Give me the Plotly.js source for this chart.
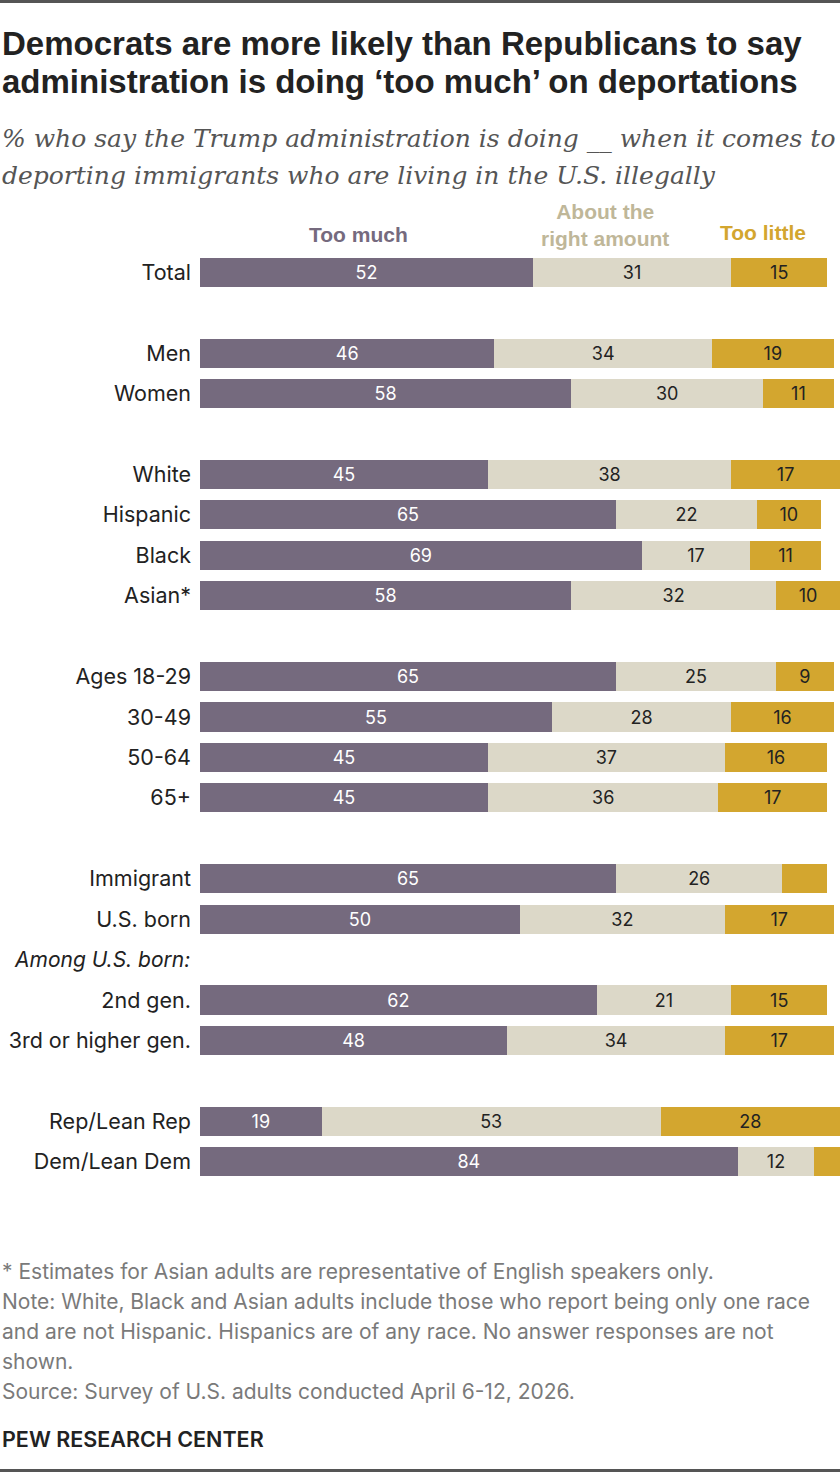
<!DOCTYPE html>
<html>
<head>
<meta charset="utf-8">
<script src="https://cdn.plot.ly/plotly-3.0.1.min.js"></script>
<style>
  html, body { margin: 0; padding: 0; background: #fff; }
  #chart { width: 840px; height: 1472px; }
</style>
</head>
<body>
<div id="chart"></div>
<script>
// Survey groups and shares (%) for each answer
const categories = ['Total', 'Men', 'Women', 'White', 'Hispanic', 'Black', 'Asian*',
  'Ages 18-29', '30-49', '50-64', '65+', 'Immigrant', 'U.S. born',
  '2nd gen.', '3rd or higher gen.', 'Rep/Lean Rep', 'Dem/Lean Dem'];
const tooMuch    = [52, 46, 58, 45, 65, 69, 58, 65, 55, 45, 45, 65, 50, 62, 48, 19, 84];
const aboutRight = [31, 34, 30, 38, 22, 17, 32, 25, 28, 37, 36, 26, 32, 21, 34, 53, 12];
const tooLittle  = [15, 19, 11, 17, 10, 11, 10,  9, 16, 16, 17,  7, 17, 15, 17, 28,  4];
const seriesNames = ['Too much', 'About the right amount', 'Too little'];

// Row slots: null marks a blank spacer between groups
const slots = ['Total', null, 'Men', 'Women', null, 'White', 'Hispanic', 'Black', 'Asian*', null,
  'Ages 18-29', '30-49', '50-64', '65+', null, 'Immigrant', 'U.S. born', 'Among U.S. born:',
  '2nd gen.', '3rd or higher gen.', null, 'Rep/Lean Rep', 'Dem/Lean Dem'];
const subheadLabel = 'Among U.S. born:';

const W = 840, H = 1472;
const M = { l: 200, r: 0, t: 252, b: 290 };
const px = x => (x - M.l) / (W - M.l - M.r);
const py = y => (H - M.b - y) / (H - M.t - M.b);

const colors = ['#756a7e', '#dcd8c8', '#d3a62f'];
const headColors = ['#756a7e', '#bfb799', '#d3a62f'];
const yPos = categories.map(c => slots.indexOf(c));

// Small segments carry no value label
const label = v => (v >= 8 ? String(v) : '');

const sans = 'Inter, Liberation Sans, Arial, sans-serif';
function barTrace(name, vals, color, textColor) {
  return {
    type: 'bar', orientation: 'h', name: name,
    x: vals, y: yPos,
    marker: { color: color, line: { width: 0 } },
    text: vals.map(label), texttemplate: '%{text}',
    textposition: 'inside', insidetextanchor: 'middle', textangle: 0,
    constraintext: 'none',
    textfont: { family: sans, size: 18, color: textColor },
    hoverinfo: 'skip'
  };
}

const data = [
  barTrace(seriesNames[0], tooMuch, colors[0], '#ffffff'),
  barTrace(seriesNames[1], aboutRight, colors[1], '#222222'),
  barTrace(seriesNames[2], tooLittle, colors[2], '#222222')
];

const titleFont = { family: 'Liberation Sans, Arial, sans-serif', size: 33, color: '#222' };
const subFont = { family: 'DejaVu Serif, serif', size: 25, color: '#555', style: 'italic' };
const headFont = { family: 'Liberation Sans, Arial, sans-serif', size: 21, weight: 'bold' };
const noteFont = { family: sans, size: 21, color: '#7a7a7a' };

function ann(text, x, y, font, xanchor) {
  return { text: text, xref: 'paper', yref: 'paper', x: px(x), y: py(y),
    xanchor: xanchor || 'left', yanchor: 'middle', showarrow: false, font: font, align: xanchor === 'center' ? 'center' : 'left' };
}

const annotations = [
  ann('<b>Democrats are more likely than Republicans to say</b>', 0, 43, titleFont),
  ann('<b>administration is doing ‘too much’ on deportations</b>', 0, 81, titleFont),
  ann('% who say the Trump administration is doing __ when it comes to', 0, 138, subFont),
  ann('deporting immigrants who are living in the U.S. illegally', 0, 176, subFont),
  ann('Too much', 358, 235, Object.assign({}, headFont, { color: headColors[0] }), 'center'),
  ann('About the<br>right amount', 605, 225, Object.assign({}, headFont, { color: headColors[1] }), 'center'),
  ann('Too little', 763, 232, Object.assign({}, headFont, { color: headColors[2] }), 'center'),
  { text: '<i>' + subheadLabel + '</i>', xref: 'paper', yref: 'y', x: px(12), y: slots.indexOf(subheadLabel),
    xanchor: 'left', yanchor: 'middle', showarrow: false,
    font: { family: sans, size: 21, color: '#222' } },
  ann('* Estimates for Asian adults are representative of English speakers only.', 0, 1271, noteFont),
  ann('Note: White, Black and Asian adults include those who report being only one race', 0, 1301, noteFont),
  ann('and are not Hispanic. Hispanics are of any race. No answer responses are not', 0, 1331, noteFont),
  ann('shown.', 0, 1361, noteFont),
  ann('Source: Survey of U.S. adults conducted April 6-12, 2026.', 0, 1391, noteFont),
  ann('PEW RESEARCH CENTER', 0, 1439, { family: sans, size: 21.5, color: '#222', weight: 600 })
];

const layout = {
  width: W, height: H,
  margin: M,
  paper_bgcolor: '#ffffff', plot_bgcolor: '#ffffff',
  barmode: 'stack', bargap: 0.28,
  showlegend: false,
  xaxis: { range: [0, 100], visible: false, fixedrange: true },
  yaxis: {
    range: [slots.length - 0.5, -0.5],
    tickvals: yPos, ticktext: categories,
    showgrid: false, zeroline: false, showline: false, ticks: '',
    ticklabelstandoff: 8,
    tickfont: { family: sans, size: 21.5, color: '#222' },
    fixedrange: true
  },
  annotations: annotations,
  shapes: [
    { type: 'rect', xref: 'paper', yref: 'paper', x0: px(0), x1: px(W), y0: py(0), y1: py(3),
      fillcolor: '#555', line: { width: 0 } },
    { type: 'rect', xref: 'paper', yref: 'paper', x0: px(0), x1: px(W), y0: py(H - 3), y1: py(H),
      fillcolor: '#555', line: { width: 0 } }
  ],
  uniformtext: { mode: 'show', minsize: 18 }
};

Plotly.newPlot('chart', data, layout, { displayModeBar: false, staticPlot: true });
</script>
</body>
</html>
